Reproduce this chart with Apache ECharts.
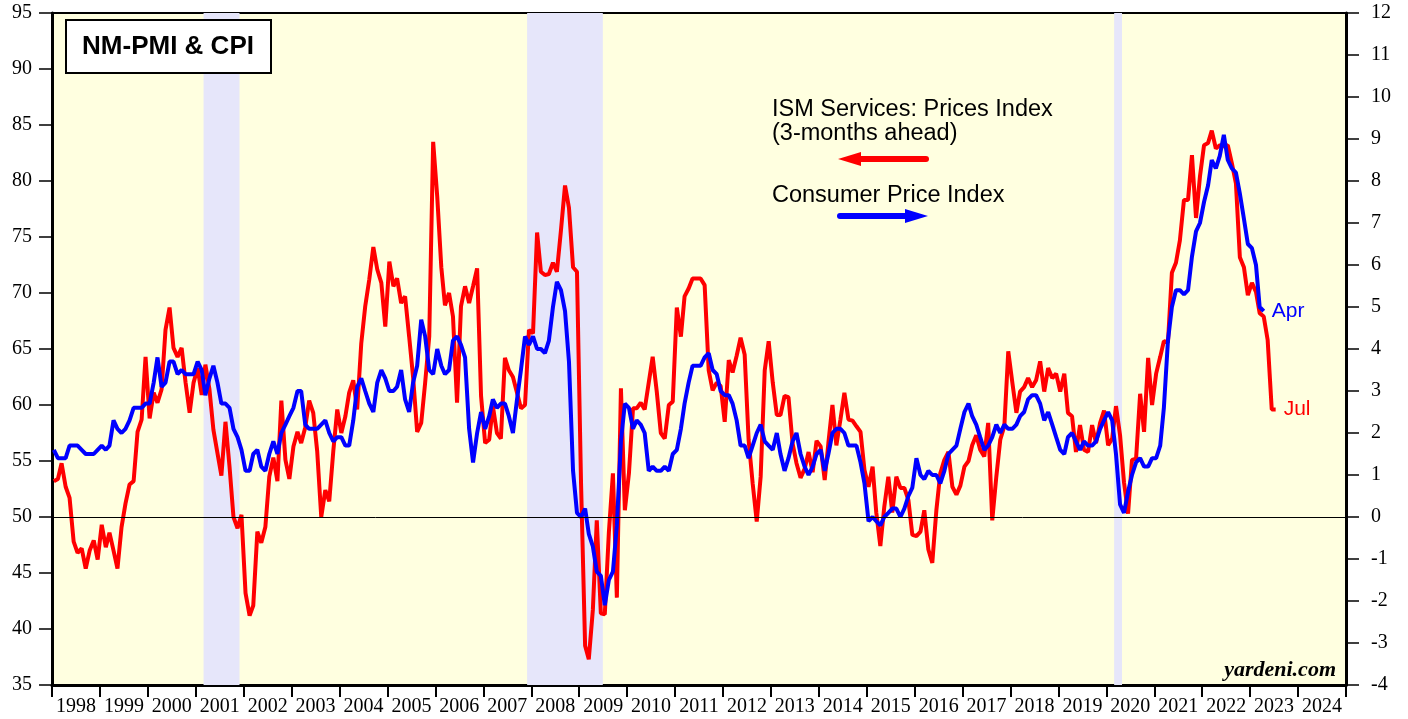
<!DOCTYPE html>
<html>
<head>
<meta charset="utf-8">
<title>NM-PMI & CPI</title>
<script src="https://cdn.jsdelivr.net/npm/echarts@6/dist/echarts.min.js"></script>
<style>
  html, body { margin: 0; padding: 0; background: #fff; }
  #chart { width: 1408px; height: 719px; }
</style>
</head>
<body>
<div id="chart"></div>
<script>
// ISM services prices index (3-months ahead), monthly, first point Jan 1998 -> left axis
const ismStart = [1998, 1]
const ismPrices = [
  53.2, 53.4, 54.8, 52.7, 51.7, 47.8, 46.8, 47.2, 45.4, 47.0, 47.9, 46.2, // 1998
  49.3, 47.3, 48.6, 47.0, 45.4, 49.1, 51.2, 52.9, 53.2, 57.6, 58.7, 64.3, // 1999
  58.8, 61.1, 60.2, 61.4, 66.7, 68.7, 65.1, 64.3, 65.1, 62.0, 59.3, 62.0, // 2000
  63.3, 60.9, 63.6, 61.4, 57.8, 55.7, 53.7, 58.5, 54.5, 50.0, 49.0, 50.2, // 2001
  43.2, 41.2, 42.1, 48.7, 47.7, 49.1, 53.6, 55.3, 53.2, 60.4, 55.1, 53.4, // 2002
  56.3, 57.6, 56.6, 58.0, 60.4, 59.3, 55.9, 50.0, 52.4, 51.4, 55.9, 59.6, // 2003
  57.5, 59.0, 61.1, 62.2, 59.6, 65.5, 68.8, 71.2, 74.1, 72.1, 70.9, 67.0, // 2004
  72.8, 70.6, 71.3, 69.1, 69.7, 66.1, 62.5, 57.6, 58.4, 62.0, 66.1, 83.5, // 2005
  78.6, 72.3, 68.9, 70.0, 67.9, 60.2, 68.8, 70.6, 69.1, 70.6, 72.2, 60.8, // 2006
  56.6, 56.9, 59.9, 57.5, 57.0, 64.2, 63.1, 62.5, 61.1, 59.7, 60.0, 66.7, // 2007
  66.4, 75.4, 71.9, 71.6, 71.7, 72.7, 71.9, 75.6, 79.6, 77.6, 72.3, 71.9, // 2008
  53.0, 38.5, 37.3, 41.7, 49.7, 41.4, 41.3, 48.6, 53.9, 42.8, 61.5, 50.6, // 2009
  53.9, 59.7, 59.7, 60.2, 59.6, 62.0, 64.3, 61.2, 57.5, 57.0, 60.0, 60.3, // 2010
  68.7, 66.1, 69.7, 70.4, 71.3, 71.3, 71.3, 70.7, 63.1, 61.3, 62.0, 61.7, // 2011
  58.5, 64.0, 62.9, 64.4, 66.0, 64.5, 56.9, 53.0, 49.6, 53.6, 63.1, 65.7, // 2012
  62.0, 59.1, 59.1, 60.8, 60.7, 56.6, 54.8, 53.5, 54.3, 55.8, 54.0, 56.8, // 2013
  56.3, 53.3, 56.6, 60.0, 56.4, 58.7, 61.1, 58.7, 58.6, 58.1, 57.6, 54.2, // 2014
  52.7, 54.5, 50.4, 47.4, 50.9, 53.6, 50.4, 53.6, 52.6, 52.6, 51.5, 48.4, // 2015
  48.3, 48.7, 50.6, 47.1, 45.9, 50.6, 53.9, 55.1, 55.8, 52.7, 52.0, 52.8, // 2016
  54.5, 55.0, 56.4, 57.3, 56.0, 55.4, 58.4, 49.7, 53.6, 56.9, 58.1, 64.8, // 2017
  62.0, 59.3, 61.2, 61.6, 62.4, 61.6, 62.2, 63.9, 61.2, 63.3, 62.4, 62.8, // 2018
  61.2, 62.8, 59.3, 59.0, 55.8, 58.2, 56.0, 55.8, 58.2, 56.6, 58.4, 59.5, // 2019
  56.4, 57.0, 59.9, 57.3, 53.1, 50.3, 55.1, 55.2, 61.0, 57.6, 64.2, 60.0, // 2020
  62.8, 64.3, 65.7, 65.6, 71.8, 72.7, 74.7, 78.3, 78.3, 82.3, 76.7, 80.4, // 2021
  83.2, 83.4, 84.5, 82.9, 83.2, 83.1, 83.2, 81.6, 79.8, 73.2, 72.3, 69.8, // 2022
  70.9, 70.1, 68.2, 67.9, 65.8, 59.6, 59.6                                // 2023 (to Jul)
]

// CPI, yearly % change, monthly, first point Jan 1998 -> right axis
const cpiStart = [1998, 1]
const cpiYoy = [
  1.6, 1.4, 1.4, 1.4, 1.7, 1.7, 1.7, 1.6, 1.5, 1.5, 1.5, 1.6, // 1998
  1.7, 1.6, 1.7, 2.3, 2.1, 2.0, 2.1, 2.3, 2.6, 2.6, 2.6, 2.7, // 1999
  2.7, 3.2, 3.8, 3.1, 3.2, 3.7, 3.7, 3.4, 3.5, 3.4, 3.4, 3.4, // 2000
  3.7, 3.5, 2.9, 3.3, 3.6, 3.2, 2.7, 2.7, 2.6, 2.1, 1.9, 1.6, // 2001
  1.1, 1.1, 1.5, 1.6, 1.2, 1.1, 1.5, 1.8, 1.5, 2.0, 2.2, 2.4, // 2002
  2.6, 3.0, 3.0, 2.2, 2.1, 2.1, 2.1, 2.2, 2.3, 2.0, 1.8, 1.9, // 2003
  1.9, 1.7, 1.7, 2.3, 3.1, 3.3, 3.0, 2.7, 2.5, 3.2, 3.5, 3.3, // 2004
  3.0, 3.0, 3.1, 3.5, 2.8, 2.5, 3.2, 3.6, 4.7, 4.3, 3.5, 3.4, // 2005
  4.0, 3.6, 3.4, 3.5, 4.2, 4.3, 4.1, 3.8, 2.1, 1.3, 2.0, 2.5, // 2006
  2.1, 2.4, 2.8, 2.6, 2.7, 2.7, 2.4, 2.0, 2.8, 3.5, 4.3, 4.1, // 2007
  4.3, 4.0, 4.0, 3.9, 4.2, 5.0, 5.6, 5.4, 4.9, 3.7, 1.1, 0.1, // 2008
  0.0, 0.2, -0.4, -0.7, -1.3, -1.4, -2.1, -1.5, -1.3, -0.2, 1.8, 2.7, // 2009
  2.6, 2.1, 2.3, 2.2, 2.0, 1.1, 1.2, 1.1, 1.1, 1.2, 1.1, 1.5, // 2010
  1.6, 2.1, 2.7, 3.2, 3.6, 3.6, 3.6, 3.8, 3.9, 3.5, 3.4, 3.0, // 2011
  2.9, 2.9, 2.7, 2.3, 1.7, 1.7, 1.4, 1.7, 2.0, 2.2, 1.8, 1.7, // 2012
  1.6, 2.0, 1.5, 1.1, 1.4, 1.8, 2.0, 1.5, 1.2, 1.0, 1.2, 1.5, // 2013
  1.6, 1.1, 1.5, 2.0, 2.1, 2.1, 2.0, 1.7, 1.7, 1.7, 1.3, 0.8, // 2014
  -0.1, 0.0, -0.1, -0.2, 0.0, 0.1, 0.2, 0.2, 0.0, 0.2, 0.5, 0.7, // 2015
  1.4, 1.0, 0.9, 1.1, 1.0, 1.0, 0.8, 1.1, 1.5, 1.6, 1.7, 2.1, // 2016
  2.5, 2.7, 2.4, 2.2, 1.9, 1.6, 1.7, 1.9, 2.2, 2.0, 2.2, 2.1, // 2017
  2.1, 2.2, 2.4, 2.5, 2.8, 2.9, 2.9, 2.7, 2.3, 2.5, 2.2, 1.9, // 2018
  1.6, 1.5, 1.9, 2.0, 1.8, 1.6, 1.8, 1.7, 1.7, 1.8, 2.1, 2.3, // 2019
  2.5, 2.3, 1.5, 0.3, 0.1, 0.6, 1.0, 1.3, 1.4, 1.2, 1.2, 1.4, // 2020
  1.4, 1.7, 2.6, 4.2, 5.0, 5.4, 5.4, 5.3, 5.4, 6.2, 6.8, 7.0, // 2021
  7.5, 7.9, 8.5, 8.3, 8.6, 9.1, 8.5, 8.3, 8.2, 7.7, 7.1, 6.5, // 2022
  6.4, 6.0, 5.0, 4.9                                          // 2023 (to Apr)
]

const years = ['1998', '1999', '2000', '2001', '2002', '2003', '2004', '2005', '2006',
  '2007', '2008', '2009', '2010', '2011', '2012', '2013', '2014', '2015', '2016',
  '2017', '2018', '2019', '2020', '2021', '2022', '2023', '2024']

// recessions (shaded)
const recessions = [
  ['2001-03-01', '2001-11-30'],
  ['2007-12-01', '2009-06-30'],
  ['2020-03-01', '2020-04-30']
]

const leftAxis = { min: 35, max: 95, step: 5 }
const rightAxis = { min: -4, max: 12, step: 1 }

function monthSeries(start, values) {
  return values.map((v, i) => {
    const k = start[1] - 1 + i
    const y = start[0] + Math.floor(k / 12)
    const m = (k % 12) + 1
    return [y + '-' + String(m).padStart(2, '0') + '-15', v]
  })
}

const serif = 'Liberation Serif'
const sans = 'Liberation Sans'

const chart = echarts.init(document.getElementById('chart'))
const option = {
  animation: false,
  backgroundColor: '#fff',
  textStyle: { fontFamily: sans },
  grid: {
    left: 52, right: 62, top: 13, bottom: 34,
    show: true, backgroundColor: '#FFFFE0', borderColor: '#000', borderWidth: 2
  },
  xAxis: [
    { type: 'time', min: '1998-01-01', max: '2025-01-01', position: 'top', show: false },
    {
      type: 'category', data: years, position: 'bottom', boundaryGap: true,
      axisLine: { onZero: false, lineStyle: { color: '#000', width: 3 } },
      axisTick: { show: true, interval: 0, length: 12, lineStyle: { color: '#000', width: 2 } },
      axisLabel: { interval: 0, margin: 12, color: '#000', fontFamily: serif, fontSize: 20 },
      splitLine: { show: false }
    }
  ],
  yAxis: [
    {
      type: 'value', min: leftAxis.min, max: leftAxis.max, interval: leftAxis.step, position: 'left',
      axisLine: { show: true, lineStyle: { color: '#000', width: 3 } },
      axisTick: { show: true, length: 13, lineStyle: { color: '#000', width: 1.5 } },
      axisLabel: { margin: 20, color: '#000', fontFamily: serif, fontSize: 20 },
      splitLine: { show: false }
    },
    {
      type: 'value', min: rightAxis.min, max: rightAxis.max, interval: rightAxis.step, position: 'right',
      axisLine: { show: true, lineStyle: { color: '#000', width: 3 } },
      axisTick: { show: true, length: 13, lineStyle: { color: '#000', width: 1.5 } },
      axisLabel: { margin: 25, color: '#000', fontFamily: serif, fontSize: 20 },
      splitLine: { show: false }
    }
  ],
  series: [
    {
      name: 'bands', type: 'line', xAxisIndex: 0, yAxisIndex: 0, data: [], silent: true, z: 1,
      markArea: {
        silent: true,
        itemStyle: { color: '#E6E6FA' },
        data: recessions.map(r => [{ xAxis: r[0] }, { xAxis: r[1] }])
      },
      markLine: {
        silent: true, symbol: 'none',
        label: { show: false },
        lineStyle: { color: '#000', width: 1, type: 'solid' },
        data: [{ yAxis: 50 }]
      }
    },
    {
      name: 'ISM Services: Prices Index', type: 'line', xAxisIndex: 0, yAxisIndex: 0,
      data: monthSeries(ismStart, ismPrices),
      showSymbol: false, z: 3,
      lineStyle: { color: '#FF0000', width: 4 },
      itemStyle: { color: '#FF0000' },
      endLabel: { show: true, formatter: 'Jul', color: '#FF0000', fontFamily: sans, fontSize: 21, distance: 8 }
    },
    {
      name: 'Consumer Price Index', type: 'line', xAxisIndex: 0, yAxisIndex: 1,
      data: monthSeries(cpiStart, cpiYoy),
      showSymbol: false, z: 4,
      lineStyle: { color: '#0000FF', width: 4 },
      itemStyle: { color: '#0000FF' },
      endLabel: { show: true, formatter: 'Apr', color: '#0000FF', fontFamily: sans, fontSize: 21, distance: 8 }
    }
  ],
  graphic: [
    {
      type: 'rect', x: 66, y: 20, shape: { width: 205, height: 53 },
      style: { fill: '#fff', stroke: '#000', lineWidth: 2 }, z: 10
    },
    {
      type: 'text', x: 168, y: 47, z: 11,
      style: { text: 'NM-PMI & CPI', font: 'bold 26px "Liberation Sans"', fill: '#000', align: 'center', verticalAlign: 'middle' }
    },
    {
      type: 'text', x: 772, y: 110, z: 10,
      style: { text: 'ISM Services: Prices Index', font: '23.5px "Liberation Sans"', fill: '#000', verticalAlign: 'middle' }
    },
    {
      type: 'text', x: 772, y: 134, z: 10,
      style: { text: '(3-months ahead)', font: '23.5px "Liberation Sans"', fill: '#000', verticalAlign: 'middle' }
    },
    {
      type: 'line', z: 10, shape: { x1: 852, y1: 159, x2: 926, y2: 159 },
      style: { stroke: '#FF0000', lineWidth: 6, lineCap: 'round' }
    },
    {
      type: 'polygon', z: 10, shape: { points: [[838, 159], [861, 152], [861, 166]] },
      style: { fill: '#FF0000' }
    },
    {
      type: 'text', x: 772, y: 196, z: 10,
      style: { text: 'Consumer Price Index', font: '23.5px "Liberation Sans"', fill: '#000', verticalAlign: 'middle' }
    },
    {
      type: 'line', z: 10, shape: { x1: 840, y1: 216, x2: 914, y2: 216 },
      style: { stroke: '#0000FF', lineWidth: 6, lineCap: 'round' }
    },
    {
      type: 'polygon', z: 10, shape: { points: [[928, 216], [905, 209], [905, 223]] },
      style: { fill: '#0000FF' }
    },
    {
      type: 'text', x: 1336, y: 670, z: 10,
      style: { text: 'yardeni.com', font: 'italic bold 22px "Liberation Serif"', fill: '#000', align: 'right', verticalAlign: 'middle' }
    }
  ]
}
chart.setOption(option)
</script>
</body>
</html>
